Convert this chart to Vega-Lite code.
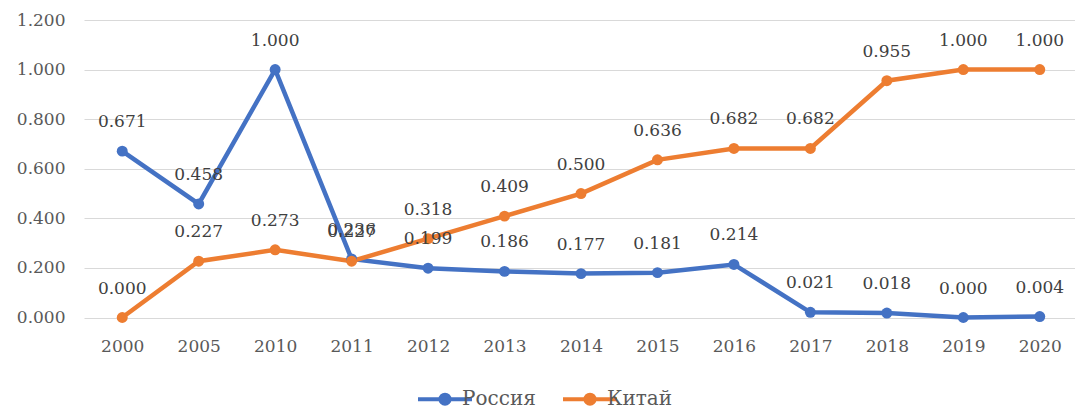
{
  "$schema": "https://vega.github.io/schema/vega-lite/v6.json",
  "autosize": {"type": "none"},
  "width": 994,
  "height": 297.5,
  "padding": {"left": 84, "top": 20, "right": 0, "bottom": 91.5},
  "background": "white",
  "config": {
    "view": {"stroke": null},
    "font": "DejaVu Serif",
    "axis": {"labelFont": "DejaVu Serif", "labelFontSize": 17, "labelColor": "#595959", "titleFontSize": 0}
  },
  "data": {
    "values": [
      {"year": "2000", "series": "Россия", "value": 0.671},
      {"year": "2005", "series": "Россия", "value": 0.458},
      {"year": "2010", "series": "Россия", "value": 1.0},
      {"year": "2011", "series": "Россия", "value": 0.236},
      {"year": "2012", "series": "Россия", "value": 0.199},
      {"year": "2013", "series": "Россия", "value": 0.186},
      {"year": "2014", "series": "Россия", "value": 0.177},
      {"year": "2015", "series": "Россия", "value": 0.181},
      {"year": "2016", "series": "Россия", "value": 0.214},
      {"year": "2017", "series": "Россия", "value": 0.021},
      {"year": "2018", "series": "Россия", "value": 0.018},
      {"year": "2019", "series": "Россия", "value": 0.0},
      {"year": "2020", "series": "Россия", "value": 0.004},
      {"year": "2000", "series": "Китай", "value": 0.0},
      {"year": "2005", "series": "Китай", "value": 0.227},
      {"year": "2010", "series": "Китай", "value": 0.273},
      {"year": "2011", "series": "Китай", "value": 0.227},
      {"year": "2012", "series": "Китай", "value": 0.318},
      {"year": "2013", "series": "Китай", "value": 0.409},
      {"year": "2014", "series": "Китай", "value": 0.5},
      {"year": "2015", "series": "Китай", "value": 0.636},
      {"year": "2016", "series": "Китай", "value": 0.682},
      {"year": "2017", "series": "Китай", "value": 0.682},
      {"year": "2018", "series": "Китай", "value": 0.955},
      {"year": "2019", "series": "Китай", "value": 1.0},
      {"year": "2020", "series": "Китай", "value": 1.0}
    ]
  },
  "encoding": {
    "x": {
      "field": "year", "type": "ordinal", "sort": null,
      "scale": {"type": "point", "padding": 0.5},
      "axis": {"title": null, "labelAngle": 0, "ticks": false, "domain": false, "labelPadding": 21, "grid": false}
    },
    "y": {
      "field": "value", "type": "quantitative",
      "scale": {"domain": [0, 1.2], "nice": false, "zero": true},
      "axis": {"title": null, "values": [0, 0.2, 0.4, 0.6, 0.8, 1.0, 1.2], "format": ".3f", "ticks": false, "domain": false, "labelPadding": 19, "gridColor": "#D9D9D9", "gridWidth": 1}
    },
    "color": {
      "field": "series", "type": "nominal",
      "scale": {"domain": ["Россия", "Китай"], "range": ["#4472C4", "#ED7D31"]},
      "legend": {
        "title": null, "orient": "none", "direction": "horizontal",
        "legendX": 348, "legendY": 366,
        "symbolType": "M-2.5,0H2.5M-0.42,0A0.42,0.42,0,1,1,0.42,0A0.42,0.42,0,1,1,-0.42,0Z",
        "symbolSize": 467, "symbolStrokeWidth": 4,
        "labelFont": "DejaVu Serif", "labelFontSize": 20, "labelColor": "#595959",
        "labelOffset": 4, "columnPadding": 18
      }
    }
  },
  "layer": [
    {"mark": {"type": "line", "strokeWidth": 4.5}},
    {"mark": {"type": "point", "filled": true, "size": 120, "opacity": 1}},
    {
      "mark": {"type": "text", "dy": -29, "baseline": "middle", "fontSize": 17, "font": "DejaVu Serif", "color": "#404040"},
      "encoding": {
        "text": {"field": "value", "type": "quantitative", "format": ".3f"},
        "color": {"value": "#404040"}
      }
    }
  ]
}
